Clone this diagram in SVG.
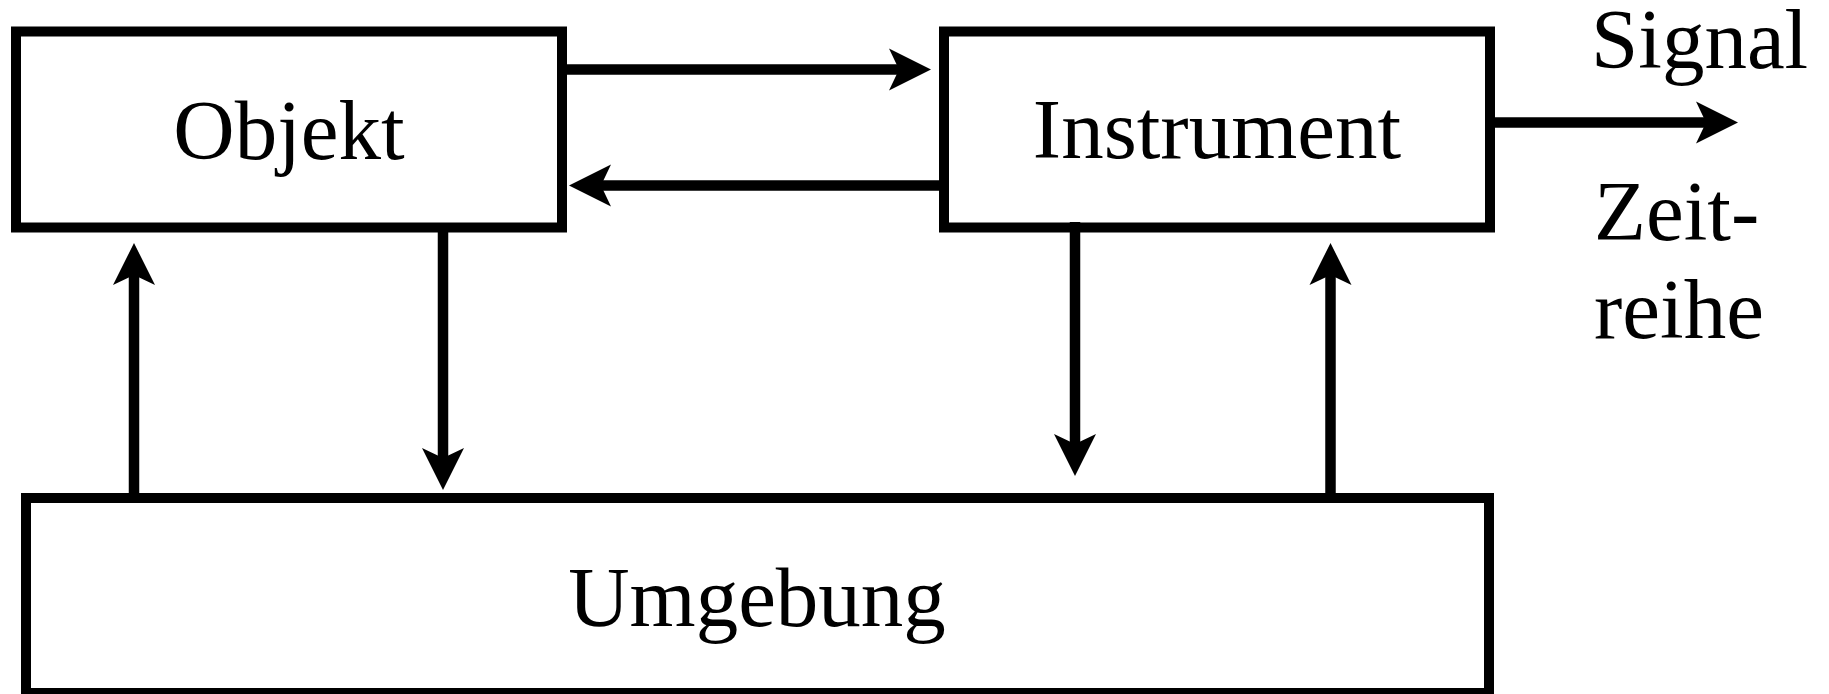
<svg xmlns="http://www.w3.org/2000/svg" width="1829" height="694" viewBox="0 0 1829 694">
  <style>
    .box { fill: #ffffff; stroke: #000000; stroke-width: 10; }
    .lbl { font-family: "Liberation Serif", "Times New Roman", serif; font-size: 85px; fill: #000000; }
    .mid { text-anchor: middle; }
    .wire { fill: none; stroke: #000000; stroke-width: 10.5; marker-end: url(#head); }
  </style>
  <defs>
    <!-- notched arrowhead; tip sits 32 units ahead of the line end -->
    <marker id="head" markerUnits="userSpaceOnUse" viewBox="-15 -25 60 50" markerWidth="60" markerHeight="50" refX="0" refY="0" orient="auto" overflow="visible">
      <path d="M32,0 L-10,-21 L0,0 L-10,21 Z" fill="#000000"/>
    </marker>
  </defs>
  <rect width="1829" height="694" fill="#ffffff"/>

  <g id="objekt">
    <rect class="box" x="16" y="31.5" width="546" height="196"/>
    <text class="lbl mid" x="289" y="159">Objekt</text>
  </g>

  <g id="instrument">
    <rect class="box" x="944" y="31.5" width="546" height="196"/>
    <text class="lbl mid" x="1217" y="158">Instrument</text>
  </g>

  <g id="umgebung">
    <rect class="box" x="26" y="498" width="1463" height="195"/>
    <text class="lbl mid" x="757" y="626">Umgebung</text>
  </g>

  <g id="ausgabe">
    <text class="lbl" x="1591" y="68">Signal</text>
    <text class="lbl" x="1594" y="240">Zeit-</text>
    <text class="lbl" x="1594" y="338">reihe</text>
  </g>

  <g id="connectors">
    <line class="wire" x1="557" y1="69.5" x2="899" y2="69.5"/>
    <line class="wire" x1="944" y1="185.5" x2="601" y2="185.5"/>
    <line class="wire" x1="443" y1="223" x2="443" y2="458"/>
    <line class="wire" x1="134" y1="498" x2="134" y2="275"/>
    <line class="wire" x1="1075" y1="222" x2="1075" y2="444"/>
    <line class="wire" x1="1330.5" y1="503" x2="1330.5" y2="275"/>
    <line class="wire" x1="1490" y1="122.5" x2="1706" y2="122.5"/>
  </g>
</svg>
